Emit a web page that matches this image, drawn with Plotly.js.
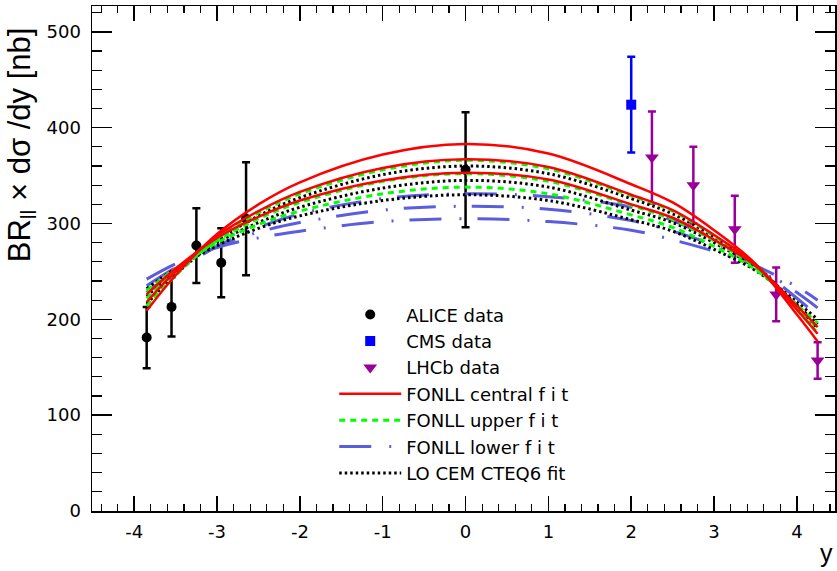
<!DOCTYPE html>
<html>
<head>
<meta charset="utf-8">
<script src="https://cdn.plot.ly/plotly-3.0.1.min.js"></script>
<style>html,body{margin:0;padding:0;background:#fff;}#chart{width:837px;height:571px;}</style>
</head>
<body>
<div id="chart"></div>
<script>
// ---- data ----
const aliceX = [-3.85, -3.55, -3.25, -2.95, -2.65, 0];
const aliceY = [181, 213, 277, 259, 305, 356];
const aliceErr = [32, 31, 39, 36, 59, 60];

const cmsX = [2.0];
const cmsY = [424];
const cmsErr = [50];

const lhcbX = [2.25, 2.75, 3.25, 3.75, 4.25];
const lhcbY = [369, 340, 294, 226, 157];
const lhcbErr = [48, 40, 35, 28, 19];

const curveX = [-3.85, -3.5, -3, -2.5, -2, -1, 0, 1, 2, 2.5, 3, 3.5, 4, 4.25];
const centralHi  = [209, 246, 289, 320, 343, 372, 383, 373, 341, 322, 293, 258, 205, 177];
const centralMid = [218, 250, 287, 313, 333, 358, 367, 359, 330, 314, 288, 257, 210, 185];
const centralLo  = [226, 253, 285, 307, 324, 345, 353, 346, 320, 306, 283, 256, 214, 192];
const upperHi  = [214, 246, 284, 311, 331, 356, 366, 357, 329, 313, 287, 257, 210, 186];
const upperMid = [222, 250, 282, 305, 322, 344, 352, 344, 319, 304, 282, 254, 213, 191];
const upperLo  = [230, 253, 280, 299, 313, 331, 338, 331, 309, 296, 276, 252, 215, 196];
const lowerHi  = [228, 250, 276, 296, 310, 326, 331, 328, 317, 303, 283, 256, 222, 204];
const lowerMid = [235, 254, 276, 291, 301, 314, 318, 315, 303, 292, 277, 256, 228, 212];
const lowerLo  = [242, 258, 275, 285, 292, 302, 305, 302, 293, 283, 271, 256, 234, 220];
const cemHi  = [216, 247, 282, 308, 327, 351, 360, 352, 326, 310, 286, 257, 213, 190];
const cemMid = [224, 250, 280, 301, 317, 337, 345, 338, 314, 301, 280, 254, 215, 195];
const cemLo  = [232, 253, 277, 295, 308, 324, 330, 324, 304, 292, 273, 251, 218, 200];

const xTickVals = [-4, -3, -2, -1, 0, 1, 2, 3, 4];
const xTickText = ['-4', '-3', '-2', '-1', '0', '1', '2', '3', '4'];
const yTickVals = [0, 100, 200, 300, 400, 500];
const yTickText = ['0', '100', '200', '300', '400', '500'];

const legendNames = ['ALICE data', 'CMS data', 'LHCb data', 'FONLL central f i t', 'FONLL upper f i t', 'FONLL lower f i t', 'LO CEM CTEQ6 fit'];

// ---- styles ----
const RED = '#ff0000', GREEN = '#00ff00', BLUE = 'rgb(92,92,222)', BLACK = '#000000', PURPLE = '#990099', CMSBLUE = '#0000ff';

function dataTrace(x, y, err, name, color, symbol, size, rank) {
  return {
    x: x, y: y, type: 'scatter', mode: 'markers', name: name, legendrank: rank,
    marker: {color: color, symbol: symbol, size: size, line: {width: 0}},
    error_y: {type: 'data', array: err, visible: true, color: color, thickness: 2.5, width: 4}
  };
}
function curve(y, name, color, dash, width, show, group, rank) {
  return {
    x: curveX, y: y, type: 'scatter', mode: 'lines', name: name, legendgroup: group,
    showlegend: show, legendrank: rank,
    line: {color: color, dash: dash, width: width, shape: 'spline', smoothing: 1}
  };
}

const traces = [
  dataTrace(aliceX, aliceY, aliceErr, legendNames[0], BLACK, 'circle', 10, 1),
  dataTrace(cmsX, cmsY, cmsErr, legendNames[1], CMSBLUE, 'square', 10, 2),
  dataTrace(lhcbX, lhcbY, lhcbErr, legendNames[2], PURPLE, 'triangle-down', 12, 3),
  curve(lowerHi, legendNames[5], BLUE, '32px,18px,2px,16px', 3, true, 'low', 6),
  curve(lowerMid, legendNames[5], BLUE, '32px,18px,2px,16px', 3, false, 'low', 6),
  curve(lowerLo, legendNames[5], BLUE, '32px,18px,2px,16px', 3, false, 'low', 6),
  curve(cemHi, legendNames[6], BLACK, '2.5px,3px', 3, true, 'cem', 7),
  curve(cemMid, legendNames[6], BLACK, '2.5px,3px', 3, false, 'cem', 7),
  curve(cemLo, legendNames[6], BLACK, '2.5px,3px', 3, false, 'cem', 7),
  curve(upperHi, legendNames[4], GREEN, '6px,5px', 3, true, 'up', 5),
  curve(upperMid, legendNames[4], GREEN, '6px,5px', 3, false, 'up', 5),
  curve(upperLo, legendNames[4], GREEN, '6px,5px', 3, false, 'up', 5),
  curve(centralHi, legendNames[3], RED, 'solid', 2.5, true, 'cen', 4),
  curve(centralMid, legendNames[3], RED, 'solid', 2.5, false, 'cen', 4),
  curve(centralLo, legendNames[3], RED, 'solid', 2.5, false, 'cen', 4)
];

const font = {family: '"DejaVu Sans", "Liberation Sans", Arial, sans-serif', color: '#000'};
const titleFont = {family: '"Liberation Sans", Arial, Helvetica, sans-serif', color: '#000'};

const layout = {
  width: 837, height: 571,
  margin: {l: 92, r: 2, t: 6, b: 60, pad: 0},
  paper_bgcolor: '#fff', plot_bgcolor: '#fff',
  font: Object.assign({size: 18}, font),
  showlegend: true,
  legend: {
    x: 0.326, y: 0.425, xanchor: 'left', yanchor: 'top',
    bgcolor: 'rgba(0,0,0,0)', borderwidth: 0,
    font: Object.assign({size: 18}, font),
    traceorder: 'normal', itemwidth: 62, tracegroupgap: 0
  },
  xaxis: {
    range: [-4.51, 4.46], showgrid: false, zeroline: false,
    showline: true, linecolor: '#000', linewidth: 1.5, mirror: 'allticks',
    ticks: 'inside', ticklen: 15, tickwidth: 1.5, tickcolor: '#000',
    tickvals: xTickVals, ticktext: xTickText,
    tickfont: Object.assign({size: 18}, font), ticklabelstandoff: 4,
    minor: {ticks: 'inside', ticklen: 7, tickwidth: 1.2, tickcolor: '#000', dtick: 0.2, tick0: 0, showgrid: false}
  },
  yaxis: {
    range: [0, 527], showgrid: false, zeroline: false,
    showline: true, linecolor: '#000', linewidth: 1.5, mirror: 'allticks',
    ticks: 'inside', ticklen: 20, tickwidth: 1.5, tickcolor: '#000',
    tickvals: yTickVals, ticktext: yTickText,
    tickfont: Object.assign({size: 18}, font), ticklabelstandoff: 6,
    minor: {ticks: 'inside', ticklen: 10, tickwidth: 1.2, tickcolor: '#000', dtick: 20, tick0: 0, showgrid: false}
  },
  annotations: [
    {text: 'BR<sub>ll</sub> × dσ /dy [nb]', xref: 'paper', yref: 'paper',
     x: -0.095, y: 0.725, xanchor: 'center', yanchor: 'middle', textangle: -90,
     showarrow: false, font: Object.assign({size: 31}, titleFont)},
    {text: 'y', xref: 'paper', yref: 'paper', x: 1.0, y: -0.083, xanchor: 'right', yanchor: 'middle',
     showarrow: false, font: Object.assign({size: 25}, titleFont)}
  ]
};

Plotly.newPlot('chart', traces, layout, {staticPlot: true, displayModeBar: false});
</script>
</body>
</html>
